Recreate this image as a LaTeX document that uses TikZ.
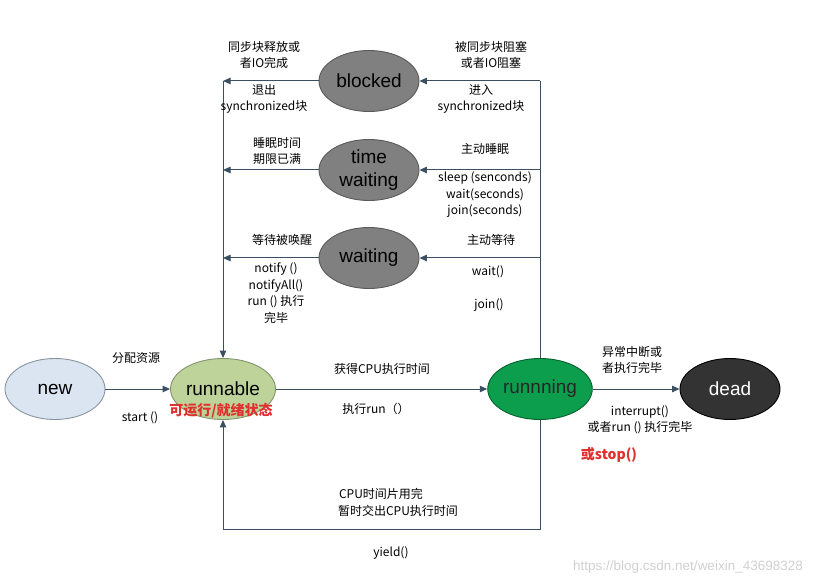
\documentclass[tikz,border=0pt]{standalone}
\usepackage{fontspec}
\setmainfont{Liberation Sans}
\newfontfamily\cjk{Noto Sans CJK SC}
\usepackage{tikz}
\usetikzlibrary{arrows.meta,positioning,calc,shapes.geometric}
\definecolor{threadline}{HTML}{3A4F62}
\definecolor{threadnew}{HTML}{DAE5F1}
\definecolor{threadrdy}{HTML}{BDD39A}
\definecolor{threadrun}{HTML}{0C9E4C}
\definecolor{threaddead}{HTML}{333333}
\definecolor{threadgray}{HTML}{808080}
\definecolor{threadred}{HTML}{E0302E}

\begin{document}
\begin{tikzpicture}[
    x=1pt,y=-1pt,
    st/.style     = {ellipse, draw=#1, line width=0.9pt, inner sep=0pt,
                     minimum width=100pt, minimum height=61pt, align=center,
                     font=\fontsize{19}{23}\selectfont},
    flow/.style   = {-{Triangle[length=7.5pt,width=6.5pt]}, threadline, line width=1pt},
    wire/.style   = {threadline, line width=1pt},
    lbl/.style    = {font=\cjk\fontsize{12}{16.5}\selectfont, align=center, inner sep=0pt},
    redmark/.style = {font=\cjk\bfseries\fontsize{14}{16}\selectfont, text=threadred, inner sep=0pt},
  ]
  \useasboundingbox[fill=white] (0,0) rectangle (830,585);

  % Zustaende der unteren Reihe
  \node[st=threadline!60, fill=threadnew]  (new)  at (55,389)  {new};
  \node[st=threadrdy!70!black, fill=threadrdy, minimum width=105pt] (rdy) at (223,389) {runnable};
  \node[st=threadrun!60!black, fill=threadrun, text=black!85] (rgn)  at (540,389) {runnning};
  \node[st=black, fill=threaddead, text=white] (dead) at (730,389) {dead};

  % Wartezustaende, mittlere Spalte
  \node[st=threadgray!70!black, fill=threadgray] (blk) at (369,81)  {blocked};
  \node[st=threadgray!70!black, fill=threadgray] (tw)  at (369,170) {time\\waiting};
  \node[st=threadgray!70!black, fill=threadgray] (wt)  at (369,258) {waiting};

  % Hilfspunkte der Sammelleitungen
  \coordinate (lt)  at (223,81);
  \coordinate (lt2) at (223,170);
  \coordinate (lt3) at (223,258);
  \coordinate (rt)  at (540,81);
  \coordinate (rt2) at (540,170);
  \coordinate (rt3) at (540,258);
  \coordinate (br)  at (540,529);
  \coordinate (bl)  at (223,529);

  % Hauptfluss
  \draw[flow] (new) -- (rdy);
  \draw[flow] (rdy) -- (rgn);
  \draw[flow] (rgn) -- (dead);

  % rechte Leitung nach oben
  \draw[wire] (rgn.north) -- (rt);
  \draw[flow] (rt)  -- (blk.east);
  \draw[flow] (rt2) -- (tw.east);
  \draw[flow] (rt3) -- (wt.east);

  % linke Leitung zurueck nach runnable
  \draw[flow] (blk.west) -- (lt);
  \draw[flow] (tw.west)  -- (lt2);
  \draw[flow] (wt.west)  -- (lt3);
  \draw[flow] (lt) -- (rdy.north);

  % yield-Schleife
  \draw[flow] (rgn.south) -- (br) -- (bl) -- (rdy.south);

  % Beschriftungen links
  \node[lbl] (l1) at (264,55)  {同步块释放或\\者IO完成};
  \node[lbl] (l2) at (264,99)  {退出\\synchronized块};
  \node[lbl] (l3) at (277,151) {睡眠时间\\期限已满};
  \node[lbl] (l4) at (282,240) {等待被唤醒};
  \node[lbl] (l5) at (276,293) {notify ()\\notifyAll()\\run () 执行\\完毕};

  % Beschriftungen rechts
  \node[lbl] (r1) at (491,55)  {被同步块阻塞\\或者IO阻塞};
  \node[lbl] (r2) at (481,99)  {进入\\synchronized块};
  \node[lbl] (r3) at (485,149) {主动睡眠};
  \node[lbl] (r4) at (485,195) {sleep (senconds)\\wait(seconds)\\join(seconds)};
  \node[lbl] (r5) at (491,240) {主动等待};
  \node[lbl] (r6) at (488,272) {wait()};
  \node[lbl] (r7) at (489,305) {join()};

  % Beschriftungen unten
  \node[lbl] (b1) at (136,358) {分配资源};
  \node[lbl] (b2) at (140,418) {start ()};
  \node[redmark] (b3) at (221,411) {可运行/就绪状态};
  \node[lbl] (b4) at (382,369) {获得CPU执行时间};
  \node[lbl] (b5) at (376,409) {执行run（）};
  \node[lbl] (b6) at (632,360) {异常中断或\\者执行完毕};
  \node[lbl] (b7) at (640,420) {interrupt()\\或者run () 执行完毕};
  \node[redmark] (b8) at (609,455) {或stop()};
  \node[lbl] (b9)  at (381,494) {CPU时间片用完};
  \node[lbl] (b9b) at (398,511) {暂时交出CPU执行时间};
  \node[lbl] (b10) at (391,553) {yield()};

  \node[font=\fontsize{13.5}{16}\selectfont, text=black!18, inner sep=0pt] (wm) at (688,567)
       {https://blog.csdn.net/weixin\_43698328};

\end{tikzpicture}
\end{document}
